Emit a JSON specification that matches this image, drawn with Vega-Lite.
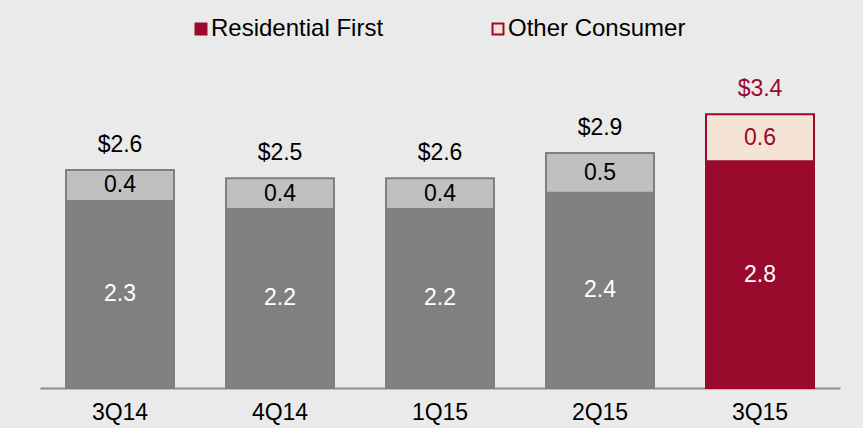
{
  "$schema": "https://vega.github.io/schema/vega-lite/v6.json",
  "width": 800,
  "height": 388,
  "autosize": {"type": "none"},
  "padding": {"left": 40, "top": 0, "right": 23, "bottom": 40},
  "background": "#eaeaea",
  "config": {
    "view": {"stroke": null},
    "font": "Liberation Sans",
    "text": {"font": "Liberation Sans"}
  },
  "datasets": {
    "segs": [
      {"quarter": "3Q14", "segment": "Residential First", "idx": 1, "value": 2.31, "label": "2.3", "totalLabel": "$2.6"},
      {"quarter": "3Q14", "segment": "Other Consumer", "idx": 2, "value": 0.38, "label": "0.4", "totalLabel": "$2.6"},
      {"quarter": "4Q14", "segment": "Residential First", "idx": 1, "value": 2.21, "label": "2.2", "totalLabel": "$2.5"},
      {"quarter": "4Q14", "segment": "Other Consumer", "idx": 2, "value": 0.38, "label": "0.4", "totalLabel": "$2.5"},
      {"quarter": "1Q15", "segment": "Residential First", "idx": 1, "value": 2.21, "label": "2.2", "totalLabel": "$2.6"},
      {"quarter": "1Q15", "segment": "Other Consumer", "idx": 2, "value": 0.38, "label": "0.4", "totalLabel": "$2.6"},
      {"quarter": "2Q15", "segment": "Residential First", "idx": 1, "value": 2.41, "label": "2.4", "totalLabel": "$2.9"},
      {"quarter": "2Q15", "segment": "Other Consumer", "idx": 2, "value": 0.49, "label": "0.5", "totalLabel": "$2.9"},
      {"quarter": "3Q15", "segment": "Residential First", "idx": 1, "value": 2.80, "label": "2.8", "totalLabel": "$3.4"},
      {"quarter": "3Q15", "segment": "Other Consumer", "idx": 2, "value": 0.58, "label": "0.6", "totalLabel": "$3.4"}
    ]
  },
  "data": {"name": "segs"},
  "encoding": {
    "x": {
      "field": "quarter",
      "type": "nominal",
      "sort": ["3Q14", "4Q14", "1Q15", "2Q15", "3Q15"],
      "scale": {"paddingInner": 0.325, "paddingOuter": 0.1625},
      "axis": {
        "title": null,
        "labelAngle": 0,
        "labelFontSize": 23,
        "labelColor": "#000000",
        "labelFont": "Liberation Sans",
        "labelPadding": 13,
        "ticks": false,
        "domainColor": "#8c8c8c",
        "domainWidth": 2,
        "grid": false
      }
    }
  },
  "layer": [
    {
      "mark": {"type": "bar", "strokeWidth": 2},
      "encoding": {
        "y": {
          "field": "value",
          "type": "quantitative",
          "stack": "zero",
          "scale": {"domain": [0, 4.79], "nice": false},
          "axis": null
        },
        "order": {"field": "idx", "type": "quantitative"},
        "color": {
          "condition": [
            {"test": "datum.quarter !== '3Q15' && datum.segment === 'Residential First'", "value": "#808080"},
            {"test": "datum.quarter !== '3Q15' && datum.segment === 'Other Consumer'", "value": "#c0c0c0"}
          ],
          "field": "segment",
          "type": "nominal",
          "scale": {"domain": ["Residential First", "Other Consumer"], "range": ["#990a2c", "#f5e4d3"]},
          "legend": {
            "title": null,
            "orient": "none",
            "direction": "horizontal",
            "legendX": 149,
            "legendY": 17,
            "symbolType": "square",
            "symbolSize": 120,
            "symbolStrokeWidth": 2,
            "labelFontSize": 24,
            "labelFont": "Liberation Sans",
            "labelColor": "#000000",
            "labelOffset": -2,
            "labelLimit": 400,
            "columnPadding": 102
          }
        },
        "stroke": {
          "condition": [
            {"test": "datum.quarter !== '3Q15'", "value": "#808080"}
          ],
          "field": "segment",
          "type": "nominal",
          "scale": {"domain": ["Residential First", "Other Consumer"], "range": ["#990a2c", "#990a2c"]}
        }
      }
    },
    {
      "mark": {"type": "text", "fontSize": 23, "baseline": "middle", "font": "Liberation Sans"},
      "encoding": {
        "y": {
          "field": "value",
          "type": "quantitative",
          "stack": "zero",
          "bandPosition": 0.5
        },
        "order": {"field": "idx", "type": "quantitative"},
        "text": {"field": "label", "type": "nominal"},
        "color": {
          "condition": [
            {"test": "datum.segment === 'Residential First'", "value": "#ffffff"},
            {"test": "datum.quarter === '3Q15'", "value": "#990a2c"}
          ],
          "value": "#000000"
        }
      }
    },
    {
      "transform": [
        {"aggregate": [{"op": "sum", "field": "value", "as": "total"}], "groupby": ["quarter", "totalLabel"]}
      ],
      "mark": {"type": "text", "fontSize": 23, "baseline": "middle", "dy": -25, "font": "Liberation Sans"},
      "encoding": {
        "y": {"field": "total", "type": "quantitative"},
        "text": {"field": "totalLabel", "type": "nominal"},
        "color": {
          "condition": {"test": "datum.quarter === '3Q15'", "value": "#990a2c"},
          "value": "#000000"
        }
      }
    }
  ]
}
